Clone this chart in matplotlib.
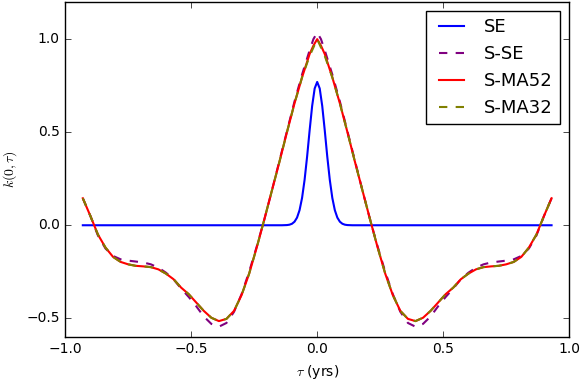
'''
Covariance kernels k(0,tau) for stationary / periodic kernels
'''

import numpy as np
from matplotlib import pyplot as plt


# Values:
tau = [-0.93, -0.90, -0.87, -0.84, -0.81, -0.78, -0.75, -0.72, -0.69, -0.66,
       -0.63, -0.60, -0.57, -0.54, -0.51, -0.48, -0.45, -0.42, -0.39, -0.36,
       -0.33, -0.30, -0.27, -0.24, -0.21, -0.18, -0.15, -0.12, -0.09, -0.06,
       -0.03, -0.015, 0.0,
       0.015, 0.03, 0.06, 0.09, 0.12, 0.15, 0.18, 0.21, 0.24, 0.27,
       0.30, 0.33, 0.36, 0.39, 0.42, 0.45, 0.48, 0.51, 0.54, 0.57,
       0.60, 0.63, 0.66, 0.69, 0.72, 0.75, 0.78, 0.81, 0.84, 0.87,
       0.90, 0.93]

k_sma52 = [0.145, 0.05, -0.05, -0.12, -0.17, -0.197, -0.21, -0.218, -0.221, -0.225,
           -0.237, -0.26, -0.29, -0.335, -0.37, -0.415, -0.46, -0.497, -0.515, -0.503,
           -0.46, -0.375, -0.26, -0.12, 0.03, 0.185, 0.34, 0.50, 0.655, 0.795,
           0.92, 0.965, 1.0,
           0.965, 0.92, 0.795, 0.655, 0.50, 0.34, 0.185, 0.03, -0.12, -0.26,
           -0.375, -0.46, -0.503, -0.515, -0.497, -0.46, -0.415, -0.37, -0.335, -0.29,
           -0.26, -0.237, -0.225, -0.221, -0.218, -0.21, -0.197, -0.17, -0.12, -0.05,
           0.05, 0.145]

k_sse = [0.145, 0.05, -0.055, -0.125, -0.165, -0.183, -0.19, -0.195, -0.20, -0.21,
         -0.228, -0.255, -0.29, -0.34, -0.385, -0.435, -0.49, -0.53, -0.545, -0.525,
         -0.465, -0.37, -0.25, -0.115, 0.03, 0.185, 0.345, 0.505, 0.665, 0.81,
         0.94, 1.0, 1.035,
         1.0, 0.94, 0.81, 0.665, 0.505, 0.345, 0.185, 0.03, -0.115, -0.25,
         -0.37, -0.465, -0.525, -0.545, -0.53, -0.49, -0.435, -0.385, -0.34, -0.29,
         -0.255, -0.228, -0.21, -0.20, -0.195, -0.19, -0.183, -0.165, -0.125, -0.055,
         0.05, 0.145]

k_sma32 = [0.145, 0.05, -0.05, -0.12, -0.17, -0.197, -0.21, -0.218, -0.221, -0.225,
           -0.237, -0.26, -0.29, -0.335, -0.37, -0.415, -0.46, -0.497, -0.515, -0.503,
           -0.46, -0.375, -0.26, -0.12, 0.03, 0.185, 0.34, 0.50, 0.655, 0.795,
           0.91, 0.955, 1.0,
           0.955, 0.91, 0.795, 0.655, 0.50, 0.34, 0.185, 0.03, -0.12, -0.26,
           -0.375, -0.46, -0.503, -0.515, -0.497, -0.46, -0.415, -0.37, -0.335, -0.29,
           -0.26, -0.237, -0.225, -0.221, -0.218, -0.21, -0.197, -0.17, -0.12, -0.05,
           0.05, 0.145]

tau_se = [-0.93, -0.14, -0.12, -0.11, -0.10, -0.09, -0.08, -0.07, -0.06, -0.05,
          -0.04, -0.03, -0.02, -0.01, 0.0, 0.01, 0.02, 0.03, 0.04, 0.05,
          0.06, 0.07, 0.08, 0.09, 0.10, 0.11, 0.12, 0.14, 0.93]
k_se = [0.0, 0.0, 0.001, 0.003, 0.008, 0.019, 0.041, 0.081, 0.147, 0.244,
        0.369, 0.51, 0.641, 0.735, 0.77, 0.735, 0.641, 0.51, 0.369, 0.244,
        0.147, 0.081, 0.041, 0.019, 0.008, 0.003, 0.001, 0.0, 0.0]


# Plot:
plt.style.use('classic')
plt.close('all')
fig = plt.figure(figsize=(5.82, 3.82), dpi=100, facecolor='w')
ax = fig.add_axes([0.112, 0.118, 0.866, 0.877])
ax.plot(tau_se, k_se, color='b', lw=1.5, label='SE')
ax.plot(tau, k_sse, color='purple', lw=1.5, ls='--', label='S-SE')
ax.plot(tau, k_sma52, color='r', lw=1.5, label='S-MA52')
ax.plot(tau, k_sma32, color='olive', lw=1.5, ls='--', label='S-MA32')
ax.set_xlim(-1, 1)
ax.set_ylim(-0.6, 1.2)
ax.set_xticks([-1.0, -0.5, 0.0, 0.5, 1.0])
ax.set_yticks([-0.5, 0.0, 0.5, 1.0])
ax.tick_params(labelsize=10)
ax.set_xlabel(r'$\tau$ (yrs)', fontsize=10)
ax.set_ylabel(r'$k(0,\tau)$', fontsize=10)
ax.legend(loc='upper right', fontsize=13, handlelength=2.0)
fig.savefig('out.png', dpi=100, facecolor='w')
